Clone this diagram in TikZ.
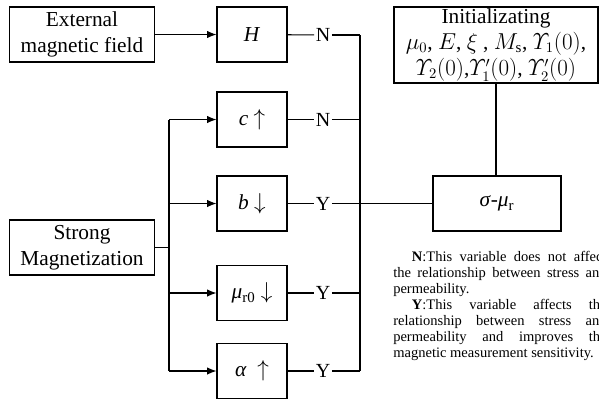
\documentclass[tikz,border=0pt]{standalone}
\usepackage{fontspec}
\setmainfont{Liberation Serif}
\usepackage{amsmath}
\usetikzlibrary{arrows.meta}
\hyphenpenalty=10000
\exhyphenpenalty=10000
\begin{document}
\begin{tikzpicture}[x=0.75pt,y=0.75pt,yscale=-1,xscale=1,
        box/.style={draw,line width=0.8pt,inner sep=0.75pt,align=center,font=\fontsize{16}{19.5}\selectfont},
        varbox/.style={box,minimum width=52.5pt,minimum height=41.25pt},
        yn/.style={inner sep=1pt,font=\fontsize{15}{18}\selectfont},
        wire/.style={line width=0.8pt},
        feed/.style={wire,-{Latex[length=7pt,width=5.5pt]}}]
    \useasboundingbox (0,0) rectangle (599,401);
    % input boxes
    \node [box,minimum width=108.75pt,minimum height=41.25pt] (ext) at (82,34.5) {External\\magnetic field};
    \node [box,minimum width=108.75pt,minimum height=41.25pt] (strong) at (82,247.5) {Strong\\Magnetization};
    % variable boxes
    \node [varbox] (h) at (252,34.5) {\textit{H}};
    \node [varbox] (c) at (252,119.5) {\textit{c} $\uparrow$};
    \node [varbox] (b) at (252,203.5) {\textit{b} $\downarrow$};
    \node [varbox] (mu) at (252,293) {\textit{μ}\textsubscript{r0} $\downarrow$};
    \node [varbox] (al) at (252,371) {\textit{α}\ \ $\uparrow$};
    % result boxes
    \node [box,minimum width=96pt,minimum height=41.25pt] (sm) at (497,203.5) {\textit{σ}-\textit{μ}\textsubscript{r}};
    \node [box,minimum width=153pt,minimum height=57pt,inner sep=0pt,font=\fontsize{16}{19.5}\selectfont] (init) at (496,45)
        {Initializating\\$\mu_0$, $E$, $\xi$ , $M_{\mathrm{s}}$, $\varUpsilon_1(0)$,\\$\varUpsilon_2(0)$,$\varUpsilon'_1(0)$, $\varUpsilon'_2(0)$};
    % N / Y labels
    \node [yn] (nh) at (323,35) {N};
    \node [yn] (nc) at (323,119.5) {N};
    \node [yn] (yb) at (323,203.5) {Y};
    \node [yn] (ymu) at (323,293) {Y};
    \node [yn] (yal) at (323,371) {Y};
    % buses
    \coordinate (rtop) at (360,35);
    \coordinate (rbot) at (360,371);
    \coordinate (ljoin) at (169,247.5);
    \coordinate (ltop) at (169,119.5);
    \coordinate (lbot) at (169,371);
    \draw [feed] (ext) -- (h);
    \draw [wire] (strong) -- (ljoin);
    \draw [wire] (ltop) -- (lbot);
    \foreach \v in {c,b,mu,al}
        \draw [feed] (ltop |- \v) -- (\v);
    \foreach \v/\l in {h/nh,c/nc,b/yb,mu/ymu,al/yal}
        \draw [wire] (\v) -- (\l);
    \foreach \l in {nh,nc,ymu,yal}
        \draw [wire] (\l) -- (rtop |- \l);
    \draw [wire] (rtop) -- (rbot);
    \draw [wire] (yb) -- (sm);
    \draw [wire] (init) -- (init |- sm.north);
    % notes
    \node [anchor=north west,inner sep=0pt,text width=160pt,align=justify,
        font=\fontsize{10.9}{12}\selectfont] (notes) at (393,251)
        {\hspace*{14pt}\textbf{N}:This variable does not affect the relationship between stress and permeability.\par
        \hspace*{14pt}\textbf{Y}:This variable affects the relationship between stress and permeability and improves the magnetic measurement sensitivity.};
\end{tikzpicture}
\end{document}
